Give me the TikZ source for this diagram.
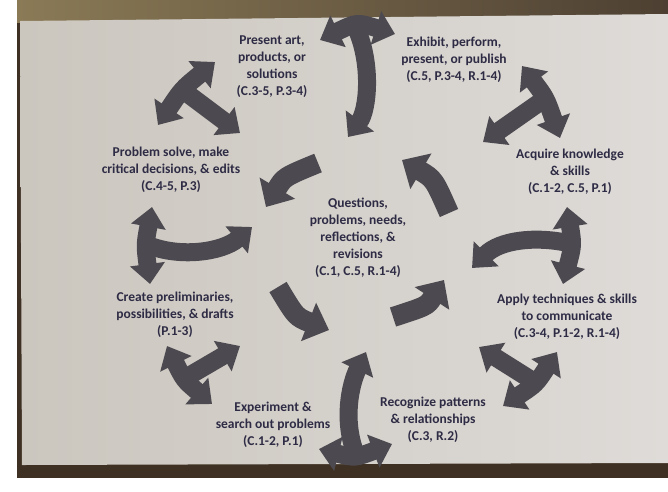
\documentclass[tikz,border=0pt]{standalone}
\usepackage{fontspec}
\setmainfont{Carlito}
\usetikzlibrary{arrows.meta}
\definecolor{ink}{HTML}{2E2B45}
\definecolor{agrey}{HTML}{4C4A50}
\definecolor{paperL}{HTML}{CBC6BE}
\definecolor{paperR}{HTML}{DEDBD8}
\definecolor{brownA}{HTML}{8A7A56}
\definecolor{brownB}{HTML}{4D4032}
\definecolor{brownC}{HTML}{3E3022}
\tikzset{
  lbl/.style={text=ink, font=\bfseries\fontsize{13.5}{17}\selectfont, align=center, inner sep=0pt},
  ringarrow/.style={draw=agrey, line width=18pt, {Triangle[width=34pt,length=20pt]}-{Triangle[width=34pt,length=20pt]}},
  stemarrow/.style={draw=agrey, line width=18pt, -{Triangle[width=34pt,length=20pt]}},
  innerarrow/.style={draw=agrey, line width=20pt, -{Triangle[width=40pt,length=22pt]}}
}
\begin{document}
\begin{tikzpicture}[x=1pt,y=-1pt]
\useasboundingbox (0,0) rectangle (668,491);
% photo background
\fill[white] (0,0) rectangle (668,491);
\fill[brownC] (17,0) rectangle (668,478);
\shade[left color=brownA, right color=brownB] (17,0) rectangle (668,22);
\shade[left color=paperL, right color=paperR] (20,21) -- (668,14) -- (668,463) -- (22,465) -- cycle;

% coordinates of the ring arrows
\coordinate (tL) at (320,40);  \coordinate (tR) at (395,34);  \coordinate (tJ) at (357,30);  \coordinate (tS) at (348,137);
\coordinate (ulA) at (215,62); \coordinate (ulB) at (158,125); \coordinate (ulJ) at (184,91); \coordinate (ulS) at (240,133);
\coordinate (urA) at (522,66); \coordinate (urB) at (560,138); \coordinate (urJ) at (543,100); \coordinate (urS) at (483,142);
\coordinate (lA) at (152,207); \coordinate (lB) at (150,284); \coordinate (lJ) at (148,245); \coordinate (lS) at (252,227);
\coordinate (rA) at (567,207); \coordinate (rB) at (563,284); \coordinate (rJ) at (568,243); \coordinate (rS) at (472,268);
\coordinate (llA) at (167,346); \coordinate (llB) at (212,404); \coordinate (llJ) at (187,377); \coordinate (llS) at (240,346);
\coordinate (lrA) at (557,352); \coordinate (lrB) at (503,406); \coordinate (lrJ) at (533,381); \coordinate (lrS) at (479,347);
\coordinate (bL) at (319,449); \coordinate (bR) at (392,444); \coordinate (bJ) at (355,452); \coordinate (bS) at (366,352);

% outer T-shaped arrows
\draw[ringarrow] (tL) .. controls (357,22) .. (tR);
\draw[stemarrow] (tJ) .. controls (372,65) and (368,110) .. (tS);
\draw[ringarrow] (ulA) .. controls (182,89) .. (ulB);
\draw[stemarrow] (ulJ) -- (ulS);
\draw[ringarrow] (urA) .. controls (546,98) .. (urB);
\draw[stemarrow] (urJ) -- (urS);
\draw[ringarrow] (lA) .. controls (145,245) .. (lB);
\draw[stemarrow] (lJ) .. controls (180,258) and (222,252) .. (lS);
\draw[ringarrow] (rA) .. controls (573,245) .. (rB);
\draw[stemarrow] (rJ) .. controls (535,236) and (500,240) .. (rS);
\draw[ringarrow] (llA) .. controls (184,380) .. (llB);
\draw[stemarrow] (llJ) -- (llS);
\draw[ringarrow] (lrA) .. controls (536,384) .. (lrB);
\draw[stemarrow] (lrJ) -- (lrS);
\draw[ringarrow] (bL) .. controls (355,458) .. (bR);
\draw[stemarrow] (bJ) .. controls (343,420) and (350,385) .. (bS);

% inner cycle arrows
\coordinate (i1a) at (318,163); \coordinate (i1b) at (266,207);
\coordinate (i2a) at (278,287); \coordinate (i2b) at (329,330);
\coordinate (i3a) at (393,317); \coordinate (i3b) at (444,280);
\coordinate (i4a) at (449,213); \coordinate (i4b) at (402,160);
\draw[innerarrow] (i1a) .. controls (284,177) .. (i1b);
\draw[innerarrow] (i2a) .. controls (296,317) .. (i2b);
\draw[innerarrow] (i3a) .. controls (427,306) .. (i3b);
\draw[innerarrow] (i4a) .. controls (434,179) .. (i4b);

% labels
\node[lbl] (present) at (272,67) {Present art,\\products, or\\solutions\\(C.3-5, P.3-4)};
\node[lbl] (exhibit) at (454,60) {Exhibit, perform,\\present, or publish\\(C.5, P.3-4, R.1-4)};
\node[lbl] (solve) at (171,170) {Problem solve, make\\critical decisions, \& edits\\(C.4-5, P.3)};
\node[lbl] (acquire) at (570,172) {Acquire knowledge\\\& skills\\(C.1-2, C.5, P.1)};
\node[lbl] (centre) at (358,238) {Questions,\\problems, needs,\\reflections, \&\\revisions\\(C.1, C.5, R.1-4)};
\node[lbl] (create) at (175,315) {Create preliminaries,\\possibilities, \& drafts\\(P.1-3)};
\node[lbl] (apply) at (567,317) {Apply techniques \& skills\\to communicate\\(C.3-4, P.1-2, R.1-4)};
\node[lbl] (experiment) at (273,425) {Experiment \&\\search out problems\\(C.1-2, P.1)};
\node[lbl] (recognize) at (433,420) {Recognize patterns\\\& relationships\\(C.3, R.2)};
\end{tikzpicture}
\end{document}
